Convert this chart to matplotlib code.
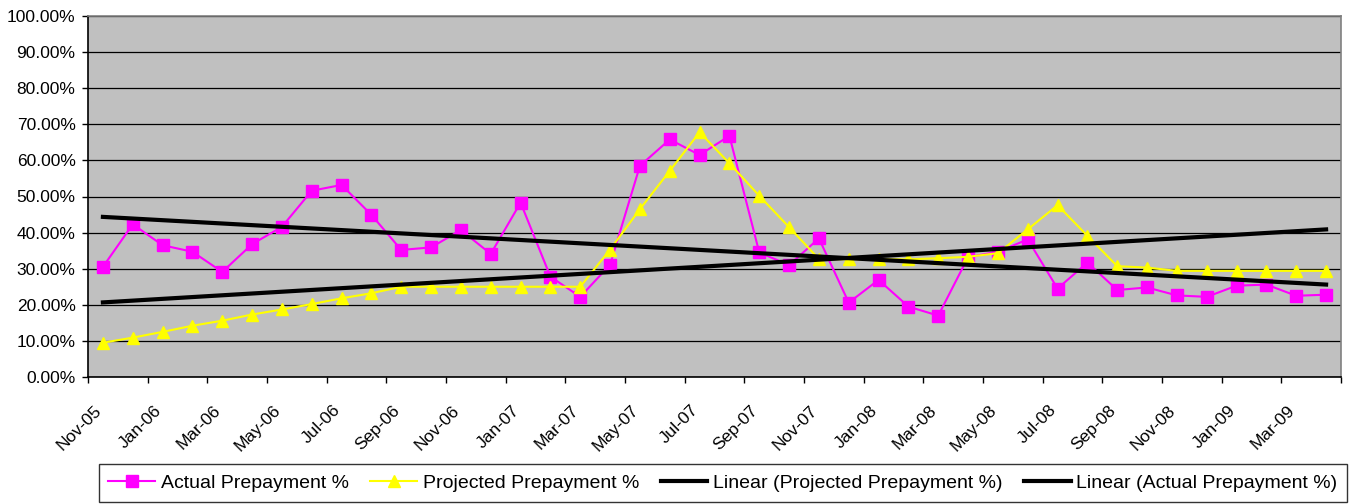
import numpy as np
import matplotlib
matplotlib.use("Agg")
import matplotlib.pyplot as plt
import matplotlib.transforms as mtransforms
from matplotlib.ticker import PercentFormatter

plt.rcParams["font.family"] = ["Liberation Sans", "DejaVu Sans"]

# ----------------------------
# data (monthly, Nov-05 .. Apr-09), values in %
# ----------------------------
months = ["Nov-05", "Dec-05", "Jan-06", "Feb-06", "Mar-06", "Apr-06", "May-06",
          "Jun-06", "Jul-06", "Aug-06", "Sep-06", "Oct-06", "Nov-06", "Dec-06",
          "Jan-07", "Feb-07", "Mar-07", "Apr-07", "May-07", "Jun-07", "Jul-07",
          "Aug-07", "Sep-07", "Oct-07", "Nov-07", "Dec-07", "Jan-08", "Feb-08",
          "Mar-08", "Apr-08", "May-08", "Jun-08", "Jul-08", "Aug-08", "Sep-08",
          "Oct-08", "Nov-08", "Dec-08", "Jan-09", "Feb-09", "Mar-09", "Apr-09"]

actual = [30.5, 42.3, 36.5, 34.7, 29.1, 36.8, 41.6, 51.6, 53.2, 44.9, 35.2,
          35.9, 40.7, 34.1, 48.3, 27.8, 22.2, 31.1, 58.5, 65.8, 61.5, 66.8,
          34.5, 31.0, 38.4, 20.6, 26.9, 19.5, 17.0, 33.2, 34.7, 38.1, 24.5,
          31.7, 24.1, 24.8, 22.6, 22.2, 25.3, 25.6, 22.5, 22.8]

projected = [9.5, 10.9, 12.5, 14.2, 15.6, 17.3, 18.7, 20.2, 21.8, 23.2, 25.0,
             25.0, 25.0, 25.0, 25.0, 25.0, 25.0, 35.3, 46.5, 57.1, 67.8, 59.2,
             50.2, 41.5, 32.7, 32.6, 32.6, 32.6, 32.9, 33.3, 34.3, 40.9, 47.6,
             39.1, 30.7, 30.3, 29.4, 29.4, 29.4, 29.4, 29.4, 29.4]

tick_labels = ["Nov-05", "Jan-06", "Mar-06", "May-06", "Jul-06", "Sep-06",
               "Nov-06", "Jan-07", "Mar-07", "May-07", "Jul-07", "Sep-07",
               "Nov-07", "Jan-08", "Mar-08", "May-08", "Jul-08", "Sep-08",
               "Nov-08", "Jan-09", "Mar-09", ""]

# ----------------------------
# plot
# ----------------------------
x = np.arange(len(months)) + 0.5
fig = plt.figure(figsize=(13.52, 5.04), dpi=100)
ax = fig.add_axes([88 / 1352, 127 / 504, 1253 / 1352, 361 / 504])
ax.set_facecolor("#C0C0C0")

ax.plot(x, actual, color="#FF00FF", lw=1.5, marker="s", ms=8.4,
        mec="#FF00FF", label="Actual Prepayment %", zorder=3)
ax.plot(x, projected, color="#FFFF00", lw=1.5, marker="^", ms=9,
        mec="#FFFF00", label="Projected Prepayment %", zorder=3)

# linear trendlines like Excel
kp = np.polyfit(x, projected, 1)
ka = np.polyfit(x, actual, 1)
xe = np.array([x[0], x[-1]])
ax.plot(xe, np.polyval(kp, xe), color="black", lw=3,
        label="Linear (Projected Prepayment %)", zorder=4)
ax.plot(xe, np.polyval(ka, xe), color="black", lw=3,
        label="Linear (Actual Prepayment %)", zorder=4)

ax.set_xlim(0, 42)
ax.set_ylim(0, 100)
ax.set_yticks(np.arange(0, 101, 10))
ax.yaxis.set_major_formatter(PercentFormatter(xmax=100, decimals=2))
ax.yaxis.grid(True, color="black", lw=0.9)
ax.set_axisbelow(True)

ax.set_xticks(np.arange(0, 43, 2))
ax.set_xticklabels(tick_labels, rotation=45, ha="right", va="top",
                   rotation_mode="anchor")
ax.tick_params(axis="both", labelsize=12.5, length=4, width=1, color="black")
ax.tick_params(axis="x", pad=0)
ax.tick_params(axis="y", pad=5)

offset = mtransforms.ScaledTranslation(6 / 100, -20 / 100, fig.dpi_scale_trans)
for lab in ax.get_xticklabels():
    lab.set_transform(lab.get_transform() + offset)

for side in ["left", "bottom"]:
    ax.spines[side].set_color("black")
    ax.spines[side].set_linewidth(1.2)
for side in ["top", "right"]:
    ax.spines[side].set_color("#808080")
    ax.spines[side].set_linewidth(1.2)

leg = fig.legend(loc="center", bbox_to_anchor=(723 / 1352, 21 / 504), ncol=4,
                 fontsize=14, frameon=True, fancybox=False, edgecolor="black",
                 handlelength=2.4, handletextpad=0.3, columnspacing=1.1,
                 borderpad=0.5)
leg.get_frame().set_linewidth(1.0)

fig.savefig("out.png", dpi=100)
